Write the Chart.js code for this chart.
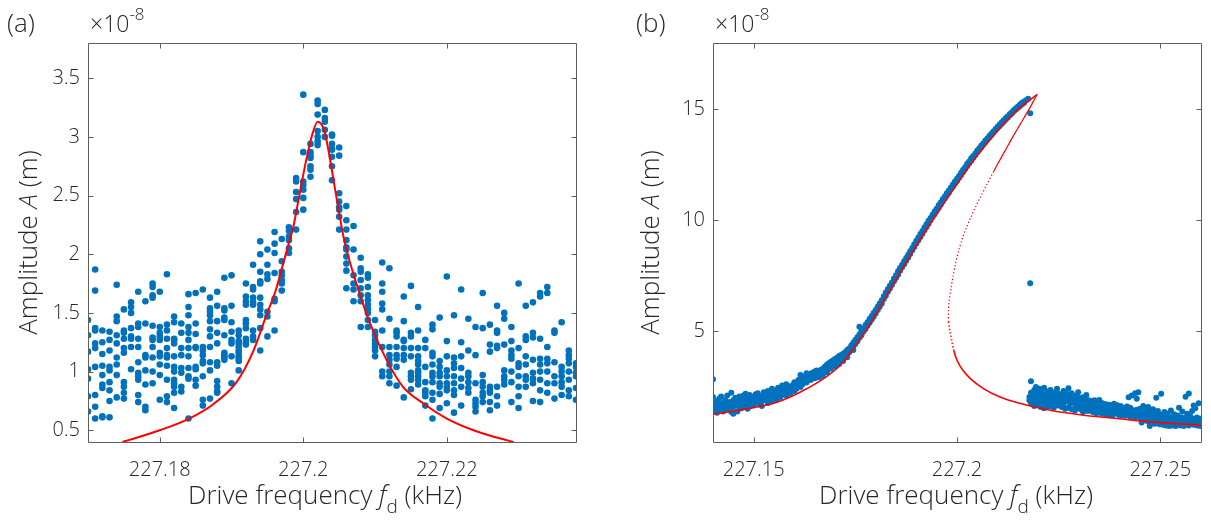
<!DOCTYPE html>
<html>
<head>
<meta charset="utf-8">
<title>Drive frequency sweep</title>
<script src="https://cdn.jsdelivr.net/npm/chart.js@4.4.1/dist/chart.umd.min.js"></script>
<style>
  html, body { margin: 0; padding: 0; background: #fff; }
  #wrap { position: relative; width: 1211px; height: 521px; }
  canvas { position: absolute; top: 0; }
</style>
</head>
<body>
<div id="wrap">
  <canvas id="chartA" width="605" height="521" style="left:0"></canvas>
  <canvas id="chartB" width="606" height="521" style="left:605px"></canvas>
</div>
<script>
const FONT = "'Open Sans', sans-serif";
const TEXT = '#262626';
const BLUE = '#0072BD';
const RED = '#FF0000';

// ---- panel (a): measured amplitude (x1e-8 m), one column per drive frequency
const aFreq = [227.170, 227.171, 227.172, 227.173, 227.174, 227.175, 227.176, 227.177, 227.178, 227.179,
  227.180, 227.181, 227.182, 227.183, 227.184, 227.185, 227.186, 227.187, 227.188, 227.189,
  227.190, 227.191, 227.192, 227.193, 227.194, 227.195, 227.196, 227.197, 227.198, 227.199,
  227.200, 227.201, 227.202, 227.203, 227.204, 227.205, 227.206, 227.207, 227.208, 227.209,
  227.210, 227.211, 227.212, 227.213, 227.214, 227.215, 227.216, 227.217, 227.218, 227.219,
  227.220, 227.221, 227.222, 227.223, 227.224, 227.225, 227.226, 227.227, 227.228, 227.229,
  227.230, 227.231, 227.232, 227.233, 227.234, 227.235, 227.236, 227.237, 227.238];
const aAmp = [
  [1.44, 1.31, 1.17, 1.02, 0.94, 0.79, 0.66],
  [1.87, 1.69, 1.37, 1.35, 1.24, 1.20, 1.04, 0.80, 0.70, 0.60],
  [1.35, 1.25, 1.15, 1.05, 0.97, 0.89, 0.86, 0.62, 0.61],
  [1.34, 1.27, 1.18, 1.04, 1.01, 0.91, 0.84, 0.75, 0.61],
  [1.74, 1.47, 1.43, 1.31, 1.24, 1.12, 1.06, 0.97, 0.78],
  [1.53, 1.35, 1.33, 1.28, 1.20, 1.16, 0.91, 0.87, 0.82, 0.77],
  [1.59, 1.55, 1.50, 1.37, 1.30, 1.28, 1.21, 1.02],
  [1.68, 1.41, 1.38, 1.28, 1.21, 1.08, 0.99, 0.96, 0.93, 0.80, 0.74],
  [1.60, 1.41, 1.14, 1.12, 1.01, 0.89, 0.70, 0.67],
  [1.75, 1.72, 1.65, 1.63, 1.39, 1.29, 1.27, 1.21, 1.12, 1.00, 0.90],
  [1.68, 1.38, 1.33, 1.30, 1.27, 1.16, 1.13, 1.06, 0.97, 0.76],
  [1.83, 1.40, 1.35, 1.28, 1.20, 1.14, 1.12, 1.05, 0.93, 0.79, 0.74],
  [1.47, 1.42, 1.28, 1.27, 1.24, 1.13, 1.04, 1.00, 0.93, 0.90, 0.87, 0.82, 0.69],
  [1.41, 1.33, 1.20, 1.14, 1.03, 0.99, 0.87, 0.83],
  [1.66, 1.55, 1.48, 1.38, 1.33, 1.27, 1.20, 1.13, 1.03, 0.96, 0.94, 0.60],
  [1.67, 1.41, 1.32, 1.21, 1.20, 1.04, 1.02, 0.93, 0.88],
  [1.70, 1.21, 1.18, 1.14, 1.09, 1.07, 0.96, 0.76, 0.71],
  [1.63, 1.54, 1.51, 1.48, 1.43, 1.36, 1.30, 1.21, 1.08, 1.01, 0.77],
  [1.68, 1.56, 1.43, 1.33, 1.24, 1.08, 1.05, 0.92, 0.87, 0.83, 0.82],
  [1.80, 1.54, 1.52, 1.46, 1.44, 1.31, 1.16, 1.14, 1.12, 1.10],
  [1.82, 1.56, 1.42, 1.34, 1.27, 1.24, 1.13, 0.90],
  [1.35, 1.31, 1.26, 1.24, 1.21, 1.18, 1.16, 1.13, 1.11, 1.09, 1.01],
  [1.75, 1.64, 1.60, 1.57, 1.44, 1.41, 1.37, 1.28, 1.25, 1.23],
  [1.91, 1.72, 1.70, 1.63, 1.59, 1.57, 1.35, 1.30, 1.27],
  [2.11, 2.00, 1.85, 1.77, 1.75, 1.63, 1.57, 1.53, 1.48, 1.37, 1.18],
  [2.04, 1.91, 1.83, 1.79, 1.51, 1.47, 1.30],
  [2.19, 2.09, 2.01, 1.84, 1.62, 1.60, 1.35],
  [2.13, 1.94, 1.85, 1.82, 1.78, 1.75, 1.69],
  [2.23, 2.20, 2.15, 2.12, 2.05, 2.01],
  [2.65, 2.62, 2.53, 2.47, 2.36, 2.21],
  [3.36, 2.87, 2.62, 2.59, 2.55, 2.48, 2.38],
  [2.94, 2.87, 2.84, 2.82, 2.75, 2.72, 2.66],
  [3.31, 3.28, 3.19, 3.05, 3.00, 2.96, 2.93],
  [3.23, 3.16, 3.13, 3.06, 3.00],
  [3.02, 3.01, 2.94, 2.90, 2.89, 2.83, 2.75, 2.63],
  [2.91, 2.84, 2.52, 2.45, 2.40, 2.38, 2.32, 2.21],
  [2.41, 2.29, 2.21, 2.12, 2.06, 2.04, 1.98, 1.92, 1.86, 1.71],
  [2.24, 2.04, 1.82, 1.75, 1.70, 1.60],
  [1.97, 1.88, 1.85, 1.78, 1.71, 1.65, 1.60, 1.38],
  [1.83, 1.80, 1.72, 1.65, 1.61, 1.57, 1.53, 1.50, 1.44, 1.38],
  [1.44, 1.34, 1.31, 1.27, 1.24, 1.21, 1.18, 1.13],
  [1.93, 1.75, 1.68, 1.58, 1.53, 1.35, 1.21, 1.00, 0.96],
  [1.88, 1.45, 1.21, 1.14, 1.10, 1.06, 1.00, 0.96, 0.90],
  [1.35, 1.33, 1.30, 1.21, 1.14, 1.11, 1.04, 0.88],
  [1.64, 1.43, 1.27, 1.26, 1.20, 1.14, 1.10, 0.78],
  [1.73, 1.33, 1.30, 1.20, 1.13, 0.99, 0.96, 0.93, 0.85],
  [1.55, 1.35, 1.20, 1.13, 1.09, 1.06, 1.01, 0.99, 0.96, 0.93, 0.89],
  [1.27, 1.20, 1.04, 0.91, 0.84, 0.82, 0.79, 0.71],
  [1.40, 1.36, 1.16, 1.13, 1.06, 0.99, 0.96, 0.91, 0.82, 0.76, 0.60],
  [1.46, 1.09, 1.04, 0.99, 0.96, 0.90, 0.87, 0.81, 0.69],
  [1.81, 1.26, 1.13, 1.01, 0.96, 0.90, 0.87, 0.84, 0.73],
  [1.48, 1.12, 1.07, 1.03, 0.96, 0.90, 0.84, 0.80, 0.65],
  [1.70, 1.25, 1.13, 1.03, 0.94, 0.87, 0.71],
  [1.45, 1.18, 0.99, 0.96, 0.91, 0.86, 0.82],
  [1.38, 1.14, 0.90, 0.76, 0.73, 0.70, 0.66],
  [1.67, 1.37, 0.97, 0.91, 0.87, 0.82, 0.79, 0.74],
  [1.40, 1.23, 1.17, 0.87, 0.84, 0.82, 0.74, 0.67],
  [1.56, 1.35, 1.33, 1.22, 1.20, 0.87, 0.79, 0.71],
  [1.50, 1.45, 1.23, 1.01, 0.96, 0.93, 0.89],
  [1.38, 1.26, 1.18, 1.14, 1.11, 1.00, 0.91, 0.74],
  [1.75, 1.20, 1.07, 1.04, 0.96, 0.87, 0.79, 0.69],
  [1.56, 1.30, 1.27, 1.13, 1.06, 0.96, 0.93, 0.87],
  [1.59, 1.33, 1.29, 1.10, 0.99, 0.94, 0.90, 0.75],
  [1.67, 1.64, 1.28, 1.11, 1.06, 1.00, 0.93, 0.84, 0.74],
  [1.72, 1.67, 1.21, 1.11, 1.07, 1.00, 0.90, 0.82],
  [1.35, 1.33, 1.08, 0.96, 0.90, 0.77],
  [1.42, 1.04, 1.00, 0.96, 0.91, 0.87, 0.80],
  [1.18, 1.14, 1.11, 1.07, 1.00, 0.93, 0.84, 0.79],
  [1.07, 1.04, 0.99, 0.96, 0.86, 0.76]
];
// fitted response curve
const aFitF = [227.1748, 227.1800, 227.1841, 227.1874, 227.1907, 227.1930, 227.1948, 227.1962, 227.1972, 227.1981,
  227.1986, 227.1995, 227.2004, 227.2013, 227.2020, 227.2029, 227.2034, 227.2043, 227.2050, 227.2057,
  227.2074, 227.2093, 227.2116, 227.2139, 227.2167, 227.2200, 227.2242, 227.2293];
const aFitA = [0.40, 0.50, 0.60, 0.72, 0.91, 1.17, 1.47, 1.70, 1.92, 2.12,
  2.23, 2.52, 2.80, 3.03, 3.13, 3.06, 2.92, 2.60, 2.35, 2.12,
  1.75, 1.41, 1.10, 0.87, 0.73, 0.60, 0.49, 0.40];
const aXTicks = [227.18, 227.2, 227.22];
const aYTicks = [0.5, 1, 1.5, 2, 2.5, 3, 3.5];

// ---- panel (b): upward sweep, large-amplitude branch
const bRiseF = [227.1400, 227.1405, 227.1410, 227.1415, 227.1420, 227.1425, 227.1430, 227.1435, 227.1440, 227.1445,
  227.1450, 227.1455, 227.1460, 227.1465, 227.1470, 227.1475, 227.1480, 227.1485, 227.1490, 227.1495,
  227.1500, 227.1505, 227.1510, 227.1515, 227.1520, 227.1525, 227.1530, 227.1535, 227.1540, 227.1545,
  227.1550, 227.1555, 227.1560, 227.1565, 227.1570, 227.1575, 227.1580, 227.1585, 227.1590, 227.1595,
  227.1600, 227.1605, 227.1610, 227.1615, 227.1620, 227.1625, 227.1630, 227.1635, 227.1640, 227.1645,
  227.1650, 227.1655, 227.1660, 227.1665, 227.1670, 227.1675, 227.1680, 227.1685, 227.1690, 227.1695,
  227.1700, 227.1705, 227.1710, 227.1715, 227.1720, 227.1725, 227.1730, 227.1735, 227.1740, 227.1745,
  227.1750, 227.1755, 227.1760, 227.1765, 227.1770, 227.1775, 227.1780, 227.1785, 227.1790, 227.1795,
  227.1800, 227.1805, 227.1810, 227.1815, 227.1820, 227.1825, 227.1830, 227.1835, 227.1840, 227.1845,
  227.1850, 227.1855, 227.1860, 227.1865, 227.1870, 227.1875, 227.1880, 227.1885, 227.1890, 227.1895,
  227.1900, 227.1905, 227.1910, 227.1915, 227.1920, 227.1925, 227.1930, 227.1935, 227.1940, 227.1945,
  227.1950, 227.1955, 227.1960, 227.1965, 227.1970, 227.1975, 227.1980, 227.1985, 227.1990, 227.1995,
  227.2000, 227.2005, 227.2010, 227.2015, 227.2020, 227.2025, 227.2030, 227.2035, 227.2040, 227.2045,
  227.2050, 227.2055, 227.2060, 227.2065, 227.2070, 227.2075, 227.2080, 227.2085, 227.2090, 227.2095,
  227.2100, 227.2105, 227.2110, 227.2115, 227.2120, 227.2125, 227.2130, 227.2135, 227.2140, 227.2145,
  227.2150, 227.2155, 227.2160, 227.2165, 227.2170, 227.2175, 227.2180];
const bRiseA = [
  [1.62, 1.50, 1.88, 2.03, 1.38, 2.83], [1.42, 1.70], [1.55, 1.80, 1.32], [1.65, 1.95], [1.48, 1.75, 2.05],
  [1.60, 1.38], [1.72, 1.90, 1.45], [1.55, 2.10], [1.80, 1.45, 1.66], [2.22, 1.70, 1.35],
  [1.58, 1.88, 1.28], [1.78, 2.00], [1.66, 1.92, 1.38], [1.85, 2.05, 1.55], [1.70, 1.95, 1.52],
  [2.10, 1.80], [1.62, 1.90, 2.18], [1.75, 2.02, 1.50], [1.88, 1.60, 2.12], [1.95, 1.72],
  [2.05, 1.82, 1.65], [1.90, 2.15], [1.78, 2.00, 2.20], [1.92, 1.70], [2.08, 1.85, 1.62],
  [2.25, 1.95], [1.88, 2.10], [2.02, 1.76, 2.30], [2.15, 1.95], [1.85, 2.08, 2.40],
  [2.20, 1.98], [2.05, 2.32, 1.90], [2.18, 2.45], [2.00, 2.28], [2.38, 2.12, 2.55],
  [2.22, 2.48], [2.35, 2.10, 2.60], [2.28, 2.52], [2.42, 2.20], [2.55, 2.35],
  [2.48, 2.70, 2.30], [2.62, 2.40], [2.55, 2.80], [2.70, 2.48, 3.02], [2.85, 2.60],
  [2.75, 2.95], [2.90, 2.68, 3.10], [2.85, 2.98], [2.92, 2.80, 3.08], [2.95, 3.12],
  [3.00, 3.18, 2.88], [3.05, 3.22], [3.02, 3.20, 2.92], [3.10, 3.25, 2.98], [3.15, 3.30, 3.02],
  [3.22, 3.40], [3.28, 3.15, 3.48], [3.35, 3.55], [3.42, 3.62, 3.30], [3.48, 3.68],
  [3.55, 3.42, 3.75], [3.60, 3.80], [3.68, 3.52, 3.88], [3.75, 3.92], [3.80, 3.65, 3.98],
  [3.88, 4.05], [3.95, 3.82, 4.15], [4.05, 4.22], [4.15, 4.35], [4.30, 4.15, 4.48],
  [4.42, 4.60], [4.55, 4.72], [4.70, 4.85, 5.20], [4.82, 5.00], [4.98, 5.12],
  [5.10, 5.28], [5.25, 5.40], [5.38, 5.55], [5.52, 5.68], [5.65, 5.82],
  [5.80, 5.95], [5.95, 6.10], [6.10, 6.25], [6.25, 6.40], [6.45, 6.58],
  [6.60, 6.75], [6.78, 6.90], [6.92, 7.05], [7.08, 7.20], [7.25, 7.38],
  [7.40, 7.52], [7.55, 7.70], [7.72, 7.85], [7.88, 8.00], [8.02, 8.15],
  [8.18, 8.30], [8.32, 8.45], [8.48, 8.60], [8.65, 8.75], [8.80, 8.92],
  [8.95, 9.08], [9.10, 9.22], [9.25, 9.38], [9.40, 9.52], [9.55, 9.68],
  [9.70, 9.82], [9.85, 9.98], [10.00, 10.10], [10.15, 10.25], [10.28, 10.40],
  [10.42, 10.52], [10.56, 10.68], [10.70, 10.80], [10.85, 10.95], [10.98, 11.08],
  [11.12, 11.22], [11.25, 11.35], [11.40, 11.48], [11.52, 11.62], [11.65, 11.75],
  [11.78, 11.88], [11.92, 12.00], [12.05, 12.15], [12.18, 12.28], [12.32, 12.40],
  [12.45, 12.55], [12.58, 12.65], [12.70, 12.80], [12.82, 12.90], [12.95, 13.02],
  [13.08, 13.15], [13.18, 13.25], [13.30, 13.38], [13.42, 13.48], [13.52, 13.60],
  [13.65, 13.70], [13.75, 13.82], [13.85, 13.92], [13.96, 14.02], [14.06, 14.12],
  [14.16, 14.22], [14.26, 14.32], [14.36, 14.42], [14.45, 14.52], [14.55, 14.62],
  [14.64, 14.70], [14.74, 14.80], [14.82, 14.88], [14.92, 14.98], [15.00, 15.06],
  [15.08, 15.14], [15.16, 15.22], [15.24, 15.30], [15.30, 15.36], [15.42],
  [15.48], [14.83, 7.16]
];
// after the jump: small-amplitude branch
const bJumpF = [227.2178, 227.2182, 227.2186, 227.2190, 227.2194, 227.2198, 227.2202, 227.2206, 227.2210, 227.2214,
  227.2218, 227.2222, 227.2226, 227.2230, 227.2234, 227.2238, 227.2242, 227.2246, 227.2250, 227.2254,
  227.2258, 227.2262, 227.2266, 227.2270, 227.2274, 227.2278, 227.2282, 227.2286, 227.2290, 227.2294,
  227.2298, 227.2302, 227.2306, 227.2310, 227.2314, 227.2318, 227.2322, 227.2326, 227.2330, 227.2334,
  227.2338, 227.2342, 227.2346, 227.2350, 227.2354, 227.2358, 227.2362, 227.2366, 227.2370, 227.2374,
  227.2378, 227.2382, 227.2386, 227.2390, 227.2394, 227.2398, 227.2402, 227.2406, 227.2410, 227.2414,
  227.2418, 227.2422, 227.2426, 227.2430, 227.2434, 227.2438, 227.2442, 227.2446, 227.2450, 227.2454,
  227.2458, 227.2462, 227.2466, 227.2470, 227.2474, 227.2478, 227.2482, 227.2486, 227.2490, 227.2494,
  227.2498, 227.2502, 227.2506, 227.2510, 227.2514, 227.2518, 227.2522, 227.2526, 227.2530, 227.2534,
  227.2538, 227.2542, 227.2546, 227.2550, 227.2554, 227.2558, 227.2562, 227.2566, 227.2570, 227.2574,
  227.2578, 227.2582, 227.2586, 227.2590, 227.2594, 227.2598];
const bJumpA = [
  [2.03, 1.88], [2.22, 1.75, 2.74], [1.95, 2.10], [2.35, 1.82, 1.62], [2.05, 2.48],
  [1.90, 2.20, 1.70], [2.12, 2.40], [1.85, 2.30, 1.58], [2.18, 2.00], [1.78, 2.45, 1.52],
  [2.08, 1.92], [2.28, 1.72], [1.98, 2.15, 1.60], [2.35, 1.85], [2.05, 1.68],
  [1.92, 2.22, 1.55], [2.10, 1.78], [1.88, 2.40], [2.02, 1.65, 2.18], [1.80, 1.95],
  [2.12, 1.58], [1.90, 2.30, 1.72], [2.05, 1.50], [1.85, 2.18], [1.98, 1.55, 2.42],
  [1.75, 2.08], [1.92, 1.48, 2.20], [1.82, 2.05], [1.70, 1.95, 1.42], [2.10, 1.62],
  [1.88, 1.52, 2.25], [1.72, 1.98], [1.85, 1.45], [2.02, 1.62, 1.35], [1.80, 1.55],
  [1.50, 2.12], [1.68, 1.40, 1.90], [1.78, 1.55], [1.42, 1.85, 1.62], [1.72, 1.35],
  [1.58, 1.88], [1.45, 1.70, 1.30], [1.62, 1.82], [1.52, 1.32, 1.90], [1.68, 1.42],
  [1.50, 1.75, 1.28], [1.40, 1.62], [1.52, 1.70, 1.25], [1.60, 1.38], [1.45, 1.68, 1.22],
  [1.55, 1.35], [1.42, 1.65, 1.20], [1.50, 1.30, 1.72], [1.40, 1.58], [1.28, 1.48, 1.66],
  [1.38, 1.22], [1.52, 1.32, 1.62], [1.42, 1.20], [1.30, 1.55, 1.45], [1.38, 1.18],
  [1.50, 1.32, 1.60], [1.25, 1.42, 2.02], [1.35, 1.15, 1.55], [1.45, 1.28, 2.10], [1.22, 1.40],
  [1.32, 1.12, 2.20], [1.45, 1.25, 1.95], [1.20, 1.38, 2.25], [1.30, 1.10, 1.50], [1.40, 1.18, 0.88],
  [1.28, 1.05, 1.62], [1.35, 1.15, 0.98], [1.22, 1.02, 1.45], [1.30, 0.92, 1.58], [1.18, 1.00, 0.72],
  [1.25, 1.38, 0.85], [1.12, 0.95, 1.48], [1.20, 0.82, 1.32], [1.08, 0.98, 2.00], [1.15, 0.88, 1.40],
  [1.02, 1.25, 0.80], [1.10, 0.92, 2.18], [0.98, 1.20, 0.78], [1.08, 0.85, 1.35], [0.95, 1.15, 0.75],
  [1.02, 0.88, 1.28], [0.92, 1.12, 0.72], [1.00, 0.82, 1.42], [0.90, 1.10, 0.75], [0.98, 0.80, 1.25],
  [0.88, 1.05, 0.72], [0.95, 0.78, 1.20], [1.02, 0.85, 1.55], [0.92, 0.75, 1.12], [0.98, 0.82, 1.38],
  [0.88, 1.08, 0.72], [0.95, 0.80, 2.04], [1.02, 0.85, 1.28], [0.90, 0.75, 2.19], [0.98, 1.15, 0.80],
  [0.88, 1.05, 1.40], [0.95, 0.78, 1.65], [1.00, 0.85, 1.52], [0.92, 1.10, 0.75], [0.98, 0.82, 1.75],
  [0.90, 1.05, 0.72]
];
// model response: stable upper branch, unstable middle branch, stable lower branch
const bHiF = [227.1400, 227.1450, 227.1508, 227.1550, 227.1590, 227.1630, 227.1672, 227.1713, 227.1754, 227.1787,
  227.1820, 227.1844, 227.1893, 227.1942, 227.1992, 227.2041, 227.2090, 227.2139, 227.2176, 227.2197];
const bHiA = [1.25, 1.40, 1.58, 1.75, 2.03, 2.40, 2.86, 3.46, 4.44, 5.35,
  6.40, 7.15, 8.65, 10.08, 11.43, 12.71, 13.84, 14.82, 15.39, 15.68];
const bMidF = [227.2197, 227.2176, 227.2156, 227.2139, 227.2123, 227.2106, 227.2090, 227.2074, 227.2057, 227.2045,
  227.2033, 227.2022, 227.2012, 227.2004, 227.1996, 227.1990, 227.1985, 227.1981, 227.1979, 227.1979];
const bMidA = [15.68, 14.97, 14.35, 13.82, 13.30, 12.74, 12.20, 11.64, 11.03, 10.58,
  10.10, 9.62, 9.12, 8.62, 8.02, 7.45, 6.90, 6.40, 5.90, 5.42];
const bLoF = [227.1979, 227.1984, 227.1992, 227.2000, 227.2016, 227.2033, 227.2065, 227.2106, 227.2147, 227.2229,
  227.2311, 227.2393, 227.2475, 227.2600];
const bLoA = [5.42, 4.89, 4.14, 3.69, 3.20, 2.86, 2.41, 2.03, 1.78, 1.43,
  1.21, 1.06, 0.91, 0.76];
const bXTicks = [227.15, 227.2, 227.25];
const bYTicks = [5, 10, 15];

function columns(freqs, amps) {
  const pts = [];
  freqs.forEach((f, i) => amps[i].forEach(a => pts.push({ x: f, y: a })));
  return pts;
}
function pairs(xs, ys) {
  return xs.map((x, i) => ({ x: x, y: ys[i] }));
}

// draws mixed-style text runs centred on x
function drawRuns(ctx, runs, x, y) {
  let w = 0;
  runs.forEach(r => { ctx.font = r.font; r.w = ctx.measureText(r.t).width; w += r.w; });
  let cx = x - w / 2;
  runs.forEach(r => { ctx.font = r.font; ctx.fillText(r.t, cx, y + (r.dy || 0)); cx += r.w; });
}

// box, inward tick marks, panel tag, exponent and axis titles
const framePlugin = {
  id: 'frame',
  afterDraw(chart, args, o) {
    const { ctx, chartArea: a } = chart;
    const xs = chart.scales.x, ys = chart.scales.y;
    const L = Math.round(a.left) + 0.5, R = Math.round(a.right) + 0.5;
    const T = Math.round(a.top) + 0.5, B = Math.round(a.bottom) + 0.5;
    ctx.save();
    ctx.strokeStyle = '#5e5e5e';
    ctx.lineWidth = 1;
    ctx.beginPath();
    ctx.rect(L, T, R - L, B - T);
    xs.ticks.forEach(t => {
      const p = Math.round(xs.getPixelForValue(t.value)) + 0.5;
      ctx.moveTo(p, B); ctx.lineTo(p, B - 5);
      ctx.moveTo(p, T); ctx.lineTo(p, T + 5);
    });
    ys.ticks.forEach(t => {
      const p = Math.round(ys.getPixelForValue(t.value)) + 0.5;
      ctx.moveTo(L, p); ctx.lineTo(L + 5, p);
      ctx.moveTo(R, p); ctx.lineTo(R - 5, p);
    });
    ctx.stroke();

    ctx.fillStyle = TEXT;
    ctx.textAlign = 'left';
    ctx.textBaseline = 'alphabetic';
    ctx.font = `300 26px ${FONT}`;
    ctx.fillText(o.tag, o.tagX, 32);

    ctx.font = `300 23px ${FONT}`;
    const base = '\u00d710';
    ctx.fillText(base, a.left + 2, 32);
    const bw = ctx.measureText(base).width;
    ctx.font = `300 17px ${FONT}`;
    ctx.fillText('-8', a.left + 2 + bw, 20);

    const reg = `300 26px ${FONT}`, ita = `italic 300 26px ${FONT}`;
    drawRuns(ctx, [
      { t: 'Drive frequency ', font: reg },
      { t: 'f', font: ita },
      { t: 'd', font: `300 19px ${FONT}`, dy: 9 },
      { t: ' (kHz)', font: reg }
    ], (a.left + a.right) / 2 + o.xTitleShift, 504);

    ctx.translate(o.yTitleX, (a.top + a.bottom) / 2);
    ctx.rotate(-Math.PI / 2);
    ctx.textBaseline = 'middle';
    drawRuns(ctx, [
      { t: 'Amplitude ', font: reg },
      { t: 'A', font: ita },
      { t: ' (m)', font: reg }
    ], 0, 0);
    ctx.restore();
  }
};

function makeChart(id, cfg) {
  const tickFont = { family: FONT, size: 20, weight: 300 };
  return new Chart(document.getElementById(id), {
    type: 'scatter',
    data: { datasets: cfg.datasets },
    options: {
      responsive: false,
      animation: false,
      devicePixelRatio: 1,
      events: [],
      layout: { padding: { left: 0, top: 43, right: cfg.padRight, bottom: 0 } },
      plugins: {
        legend: { display: false },
        tooltip: { enabled: false },
        frame: cfg.frame
      },
      scales: {
        x: {
          type: 'linear', min: cfg.xMin, max: cfg.xMax,
          grid: { display: false, drawTicks: false },
          border: { display: false },
          afterBuildTicks: s => { s.ticks = cfg.xTicks.map(v => ({ value: v })); },
          afterFit: s => { s.height = 79; },
          ticks: {
            font: tickFont, color: TEXT, padding: 16, maxRotation: 0, autoSkip: false,
            callback: v => String(+v.toFixed(4))
          }
        },
        y: {
          type: 'linear', min: cfg.yMin, max: cfg.yMax,
          grid: { display: false, drawTicks: false },
          border: { display: false },
          afterBuildTicks: s => { s.ticks = cfg.yTicks.map(v => ({ value: v })); },
          afterFit: s => { s.width = cfg.axisLeft; },
          ticks: {
            font: tickFont, color: TEXT, padding: 8, autoSkip: false,
            callback: v => String(+v.toFixed(2))
          }
        }
      }
    },
    plugins: [framePlugin]
  });
}

makeChart('chartA', {
  xMin: 227.170, xMax: 227.238, yMin: 0.4, yMax: 3.8,
  xTicks: aXTicks, yTicks: aYTicks,
  axisLeft: 88, padRight: 29,
  frame: { tag: '(a)', tagX: 7, yTitleX: 30, xTitleShift: -7 },
  datasets: [
    { data: pairs(aFitF, aFitA), showLine: true, borderColor: RED, borderWidth: 2,
      pointRadius: 0, cubicInterpolationMode: 'monotone', fill: false },
    { data: columns(aFreq, aAmp), pointRadius: 3.3, pointHoverRadius: 3.3,
      backgroundColor: BLUE, borderWidth: 0 }
  ]
});

makeChart('chartB', {
  xMin: 227.14, xMax: 227.26, yMin: 0, yMax: 18,
  xTicks: bXTicks, yTicks: bYTicks,
  axisLeft: 108, padRight: 10,
  frame: { tag: '(b)', tagX: 31, yTitleX: 47, xTitleShift: -1 },
  datasets: [
    { data: pairs(bHiF, bHiA), showLine: true, borderColor: RED, borderWidth: 1.6,
      pointRadius: 0, cubicInterpolationMode: 'monotone', fill: false },
    { data: pairs(bMidF, bMidA), showLine: true, borderColor: RED, borderWidth: 1.2,
      pointRadius: 0, tension: 0.3, fill: false,
      segment: { borderDash: c => c.p0.parsed.y < 12.5 ? [1.3, 2.2] : undefined } },
    { data: pairs(bLoF, bLoA), showLine: true, borderColor: RED, borderWidth: 1.6,
      pointRadius: 0, cubicInterpolationMode: 'monotone', fill: false,
      segment: { borderDash: c => c.p0.parsed.y > 4.6 ? [1.3, 2.2] : undefined } },
    { data: columns(bRiseF, bRiseA), pointRadius: 3, pointHoverRadius: 3,
      backgroundColor: BLUE, borderWidth: 0 },
    { data: columns(bJumpF, bJumpA), pointRadius: 3, pointHoverRadius: 3,
      backgroundColor: BLUE, borderWidth: 0 }
  ]
});
</script>
</body>
</html>
